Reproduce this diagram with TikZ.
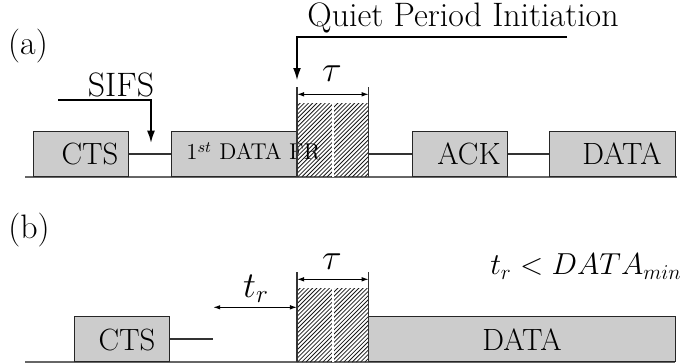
\documentclass[tikz,border=0pt]{standalone}
\usepackage{amsmath}
\usetikzlibrary{positioning, arrows.meta}

\tikzset{
  slot/.style={draw=black!85, fill=black!20, line width=0.7pt, inner sep=0pt,
    minimum height=0.9cm, anchor=south west},
  quiet/.style={inner sep=0pt, minimum width=1.42cm,
    minimum height=1.46cm, anchor=south west},
  hatch/.style={draw=black!90, line width=0.45pt},
  link/.style={draw=black!80, line width=0.7pt},
  ground/.style={draw=black!60, line width=1.2pt},
  pointer/.style={-{Latex[length=7pt, width=4.5pt]}, line width=1pt},
  dimline/.style={{Latex[length=4pt, width=2.6pt]}-{Latex[length=4pt, width=2.6pt]},
    line width=0.6pt},
  lbl/.style={anchor=base, inner sep=0pt},
  slottxt/.style={lbl, font=\fontsize{17.5}{21}\selectfont},
}

\begin{document}
\begin{tikzpicture}[x=0.02cm, y=-0.02cm, font=\fontsize{19.3}{23}\selectfont]

\useasboundingbox (0,0) rectangle (685,364);

% --- Panel (a) ---
\node[lbl] (tagA) at (28,55) {(a)};
\draw[ground] (25,177) -- (677,177);

\node[slot, minimum width=1.9cm] (ctsA) at (33,177) {};
\node[slot, minimum width=2.52cm] (dfrA) at (171,177) {};
\node[quiet] (qA) at (297,177) {};
\node[slot, minimum width=1.9cm] (ackA) at (412,177) {};
\node[slot, minimum width=2.52cm] (dataA) at (549,177) {};

% hatching of the quiet period
\begin{scope}
  \clip (qA.south west) rectangle (qA.north east);
  \foreach \k in {0,...,36}
    \draw[hatch] (222+4.2*\k,177) -- ++(76,-76);
\end{scope}
\draw[white, line width=0.8pt] (qA.north) -- (qA.south);

\node[slottxt] (ctsAtxt) at (90,165) {CTS};
\node[lbl, anchor=base west, font=\fontsize{13}{15}\selectfont] (dfrAtxt)
  at (186,160) {1$^{st}$ DATA FR};
\node[slottxt] (ackAtxt) at (469,165) {ACK};
\node[slottxt] (dataAtxt) at (622,165) {DATA};

\draw[link] (ctsA) -- (dfrA);
\draw[link] (qA.east |- ackA.west) -- (ackA.west);
\draw[link] (ackA) -- (dataA);

% quiet period width
\draw[link] (qA.south west) -- ([yshift=0.32cm]qA.north west);
\draw[link] (qA.south east) -- ([yshift=0.32cm]qA.north east);
\draw[dimline] ([yshift=0.18cm]qA.north west) -- ([yshift=0.18cm]qA.north east);
\node[lbl] (tauA) at (332,82) {$\tau$};

% SIFS and quiet period initiation
\node[lbl] (sifs) at (121,97) {SIFS};
\coordinate (sifsS) at (58,100);
\coordinate (sifsE) at (151,143);
\draw[pointer] (sifsS) -| (sifsE);

\node[lbl] (qpi) at (463,27) {Quiet Period Initiation};
\coordinate (qpiS) at (567,37);
\draw[pointer] (qpiS) -| ([yshift=0.46cm]qA.north west);

% --- Panel (b) ---
\node[lbl] (tagB) at (29,238) {(b)};
\draw[ground] (25,362) -- (675,362);

\node[slot, minimum width=1.9cm] (ctsB) at (74,362) {};
\node[quiet] (qB) at (297,362) {};
\node[slot, minimum width=6.14cm] (dataB) at (368,362) {};

% hatching of the quiet period
\begin{scope}
  \clip (qB.south west) rectangle (qB.north east);
  \foreach \k in {0,...,36}
    \draw[hatch] (222+4.2*\k,362) -- ++(76,-76);
\end{scope}
\draw[white, line width=0.8pt] (qB.north) -- (qB.south);

\node[slottxt] (ctsBtxt) at (127,350) {CTS};
\node[slottxt] (dataBtxt) at (522,350) {DATA};

\draw[link] (ctsB.east) -- ++(43,0) coordinate (gapB);

% quiet period width
\draw[link] (qB.south west) -- ([yshift=0.32cm]qB.north west);
\draw[link] (qB.south east) -- ([yshift=0.32cm]qB.north east);
\draw[dimline] ([yshift=0.18cm]qB.north west) -- ([yshift=0.18cm]qB.north east);
\node[lbl] (tauB) at (332,269) {$\tau$};

% reaction time
\coordinate (trR) at ([yshift=-0.38cm]qB.north west);
\draw[dimline] (gapB |- trR) -- (trR);
\node[lbl] (trB) at (256,297) {$t_r$};

\node[lbl, anchor=base east, font=\fontsize{18.3}{22}\selectfont] (cond)
  at (682,275) {$t_r < DATA_{min}$};

\end{tikzpicture}
\end{document}
